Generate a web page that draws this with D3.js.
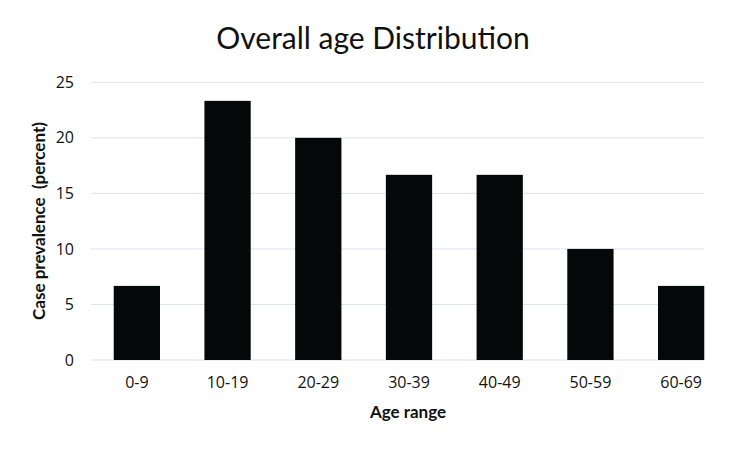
<!DOCTYPE html>
<html><head><meta charset="utf-8">
<script src="https://cdn.jsdelivr.net/npm/d3@7"></script>
<style>body{margin:0;background:#fff}</style>
</head><body>
<svg id="c" width="750" height="450"></svg>
<script>
const categories = ["0-9","10-19","20-29","30-39","40-49","50-59","60-69"];
const values = [6.67, 23.33, 20, 16.67, 16.67, 10, 6.67];
const yTicks = [0,5,10,15,20,25];

const svg = d3.select("#c");
const x = d3.scaleBand().domain(categories).range([91.5, 726.5]).paddingInner(0.49).paddingOuter(0.245);
const y = d3.scaleLinear().domain([0,25]).range([360, 82.3]);
const gridRight = 704;

svg.append("g").selectAll("line").data(yTicks).join("line")
  .attr("x1", 91).attr("x2", gridRight)
  .attr("y1", d => y(d)).attr("y2", d => y(d))
  .attr("stroke", "#dde3ea").attr("stroke-width", 1);

svg.append("g").selectAll("rect").data(values).join("rect")
  .attr("x", (d,i) => x(categories[i]))
  .attr("width", x.bandwidth())
  .attr("y", d => y(d))
  .attr("height", d => y(0) - y(d))
  .attr("fill", "#050808");

const yAxis = svg.append("g").attr("transform", "translate(91,0)")
  .call(d3.axisLeft(y).tickValues(yTicks).tickSize(0).tickPadding(17));
yAxis.select(".domain").remove();
yAxis.selectAll("text").attr("font-family", "'Open Sans', sans-serif").attr("font-size", 16).attr("fill", "#111");

const xAxis = svg.append("g").attr("transform", "translate(0,360)")
  .call(d3.axisBottom(x).tickSize(0).tickPadding(17));
xAxis.select(".domain").remove();
xAxis.selectAll("text").attr("font-family", "'Open Sans', sans-serif").attr("font-size", 16).attr("fill", "#111");

svg.append("text").attr("x", 373).attr("y", 49).attr("text-anchor", "middle")
  .attr("font-family", "Lato, 'Open Sans', sans-serif").attr("font-size", 30).attr("fill", "#111")
  .text("Overall age Distribution");

svg.append("text").attr("x", 408).attr("y", 418).attr("text-anchor", "middle")
  .attr("font-family", "Lato, 'Open Sans', sans-serif").attr("font-weight", "bold").attr("font-size", 17).attr("fill", "#111")
  .text("Age range");

svg.append("text").attr("transform", "translate(45,221) rotate(-90)").attr("text-anchor", "middle")
  .attr("font-family", "Lato, 'Open Sans', sans-serif").attr("font-weight", "bold").attr("font-size", 17).attr("fill", "#111")
  .attr("xml:space", "preserve")
  .text("Case prevalence  (percent)");
</script>
</body></html>
